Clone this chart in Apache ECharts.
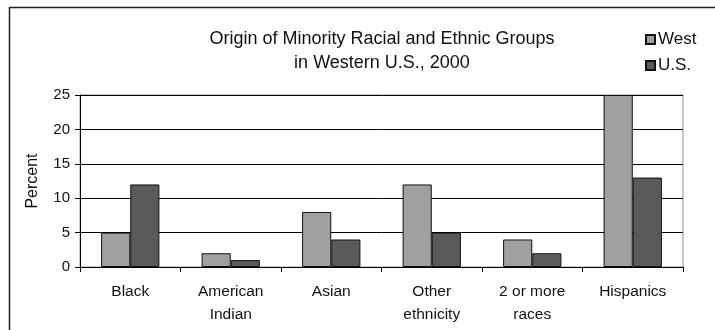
<!DOCTYPE html>
<html>
<head>
<meta charset="utf-8">
<script src="https://cdn.jsdelivr.net/npm/echarts@6/dist/echarts.min.js"></script>
<style>
  html, body { margin: 0; padding: 0; background: #fff; }
  #chart { width: 715px; height: 330px; }
</style>
</head>
<body>
<div id="chart"></div>
<script>
// Minority groups and their shares (percent)
const categories = ['Black', 'American\nIndian', 'Asian', 'Other\nethnicity', '2 or more\nraces', 'Hispanics'];
const westValues = [5, 2, 8, 12, 4, 25];
const usValues = [12, 1, 4, 5, 2, 13];
const yTicks = { min: 0, max: 25, interval: 5 };

const FONT = '"Liberation Sans", Arial, sans-serif';
const chart = echarts.init(document.getElementById('chart'), null, { renderer: 'canvas' });

chart.setOption({
  backgroundColor: '#fff',
  animation: false,
  textStyle: { fontFamily: FONT, color: '#000' },
  title: {
    text: 'Origin of Minority Racial and Ethnic Groups\nin Western U.S., 2000',
    left: 377,
    top: 22,
    textAlign: 'center',
    textStyle: { fontFamily: FONT, fontSize: 18, fontWeight: 'normal', color: '#111', lineHeight: 24 }
  },
  legend: {
    orient: 'vertical',
    left: 640,
    top: 26,
    itemWidth: 9,
    itemHeight: 9,
    itemGap: 9,
    icon: 'rect',
    textStyle: { fontFamily: FONT, fontSize: 17, color: '#111', padding: [0, 0, 0, -2] },
    data: ['West', 'U.S.']
  },
  grid: {
    left: 80, right: 32, top: 95, bottom: 63,
    show: true, borderColor: '#999', borderWidth: 1, backgroundColor: 'transparent'
  },
  xAxis: {
    type: 'category',
    data: categories,
    axisLine: { lineStyle: { color: '#000', width: 1 } },
    axisTick: { show: true, length: 5, lineStyle: { color: '#000' } },
    axisLabel: { interval: 0, margin: 13, fontSize: 15.5, lineHeight: 23, color: '#111', fontFamily: FONT },
    splitLine: { show: false }
  },
  yAxis: {
    type: 'value',
    min: yTicks.min,
    max: yTicks.max,
    interval: yTicks.interval,
    name: 'Percent',
    nameLocation: 'middle',
    nameGap: 39,
    nameTextStyle: { fontSize: 16, color: '#111', fontFamily: FONT },
    axisLine: { show: true, lineStyle: { color: '#000', width: 1 } },
    axisTick: { show: true, length: 5, lineStyle: { color: '#000' } },
    axisLabel: { fontSize: 15, margin: 10, color: '#111', fontFamily: FONT },
    splitLine: { show: true, lineStyle: { color: '#000', width: 1 } }
  },
  series: [
    {
      name: 'West',
      type: 'bar',
      data: westValues,
      barGap: '0%',
      barCategoryGap: '42%',
      itemStyle: { color: '#a0a0a0', borderColor: '#111', borderWidth: 1 }
    },
    {
      name: 'U.S.',
      type: 'bar',
      data: usValues,
      barGap: '0%',
      barCategoryGap: '42%',
      itemStyle: { color: '#5a5a5a', borderColor: '#111', borderWidth: 1 }
    }
  ],
  graphic: [
    {
      type: 'polyline',
      silent: true,
      shape: { points: [[9.5, 331], [9.5, 7.5], [716, 7.5]] },
      style: { stroke: '#222', lineWidth: 1.5, fill: null }
    }
  ]
});
</script>
</body>
</html>
